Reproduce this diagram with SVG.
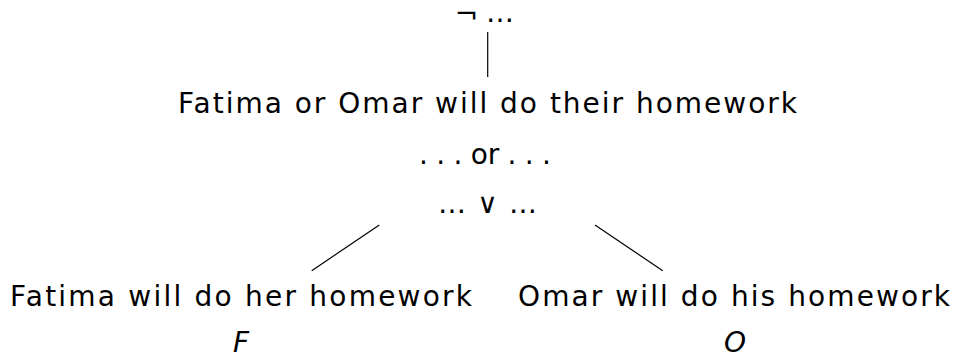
<svg xmlns="http://www.w3.org/2000/svg" width="954" height="359" viewBox="0 0 954 359">
<style>
text{font-family:"DejaVu Sans","Liberation Sans",sans-serif;font-size:28px;fill:#000;text-anchor:middle}
.it{font-style:italic}
.c line{stroke:#000;stroke-width:1.2}
</style>
<rect width="954" height="359" fill="#fff"/>
<g id="neg"><text x="466.5" y="24" font-size="18">¬</text><text x="500" y="22" font-size="18" textLength="29" lengthAdjust="spacing">…</text></g>
<g id="root"><text x="487.5" y="113" textLength="619" lengthAdjust="spacing">Fatima or Omar will do their homework</text></g>
<g id="or"><text x="485" y="164" textLength="132" lengthAdjust="spacing">. . . or . . .</text></g>
<g id="vee"><text x="487.5" y="213" font-size="24" textLength="99" lengthAdjust="spacing">… ∨ …</text></g>
<g id="left"><text x="241" y="306" textLength="462" lengthAdjust="spacing">Fatima will do her homework</text>
<text class="it" x="241" y="352">F</text></g>
<g id="right"><text x="734" y="306" textLength="432" lengthAdjust="spacing">Omar will do his homework</text>
<text class="it" x="735" y="352">O</text></g>
<g class="c" id="connectors">
<line x1="487.7" y1="32" x2="487.7" y2="77"/>
<line x1="379.3" y1="225" x2="311.7" y2="270.7"/>
<line x1="595" y1="225" x2="662.7" y2="270.7"/>
</g>
</svg>
